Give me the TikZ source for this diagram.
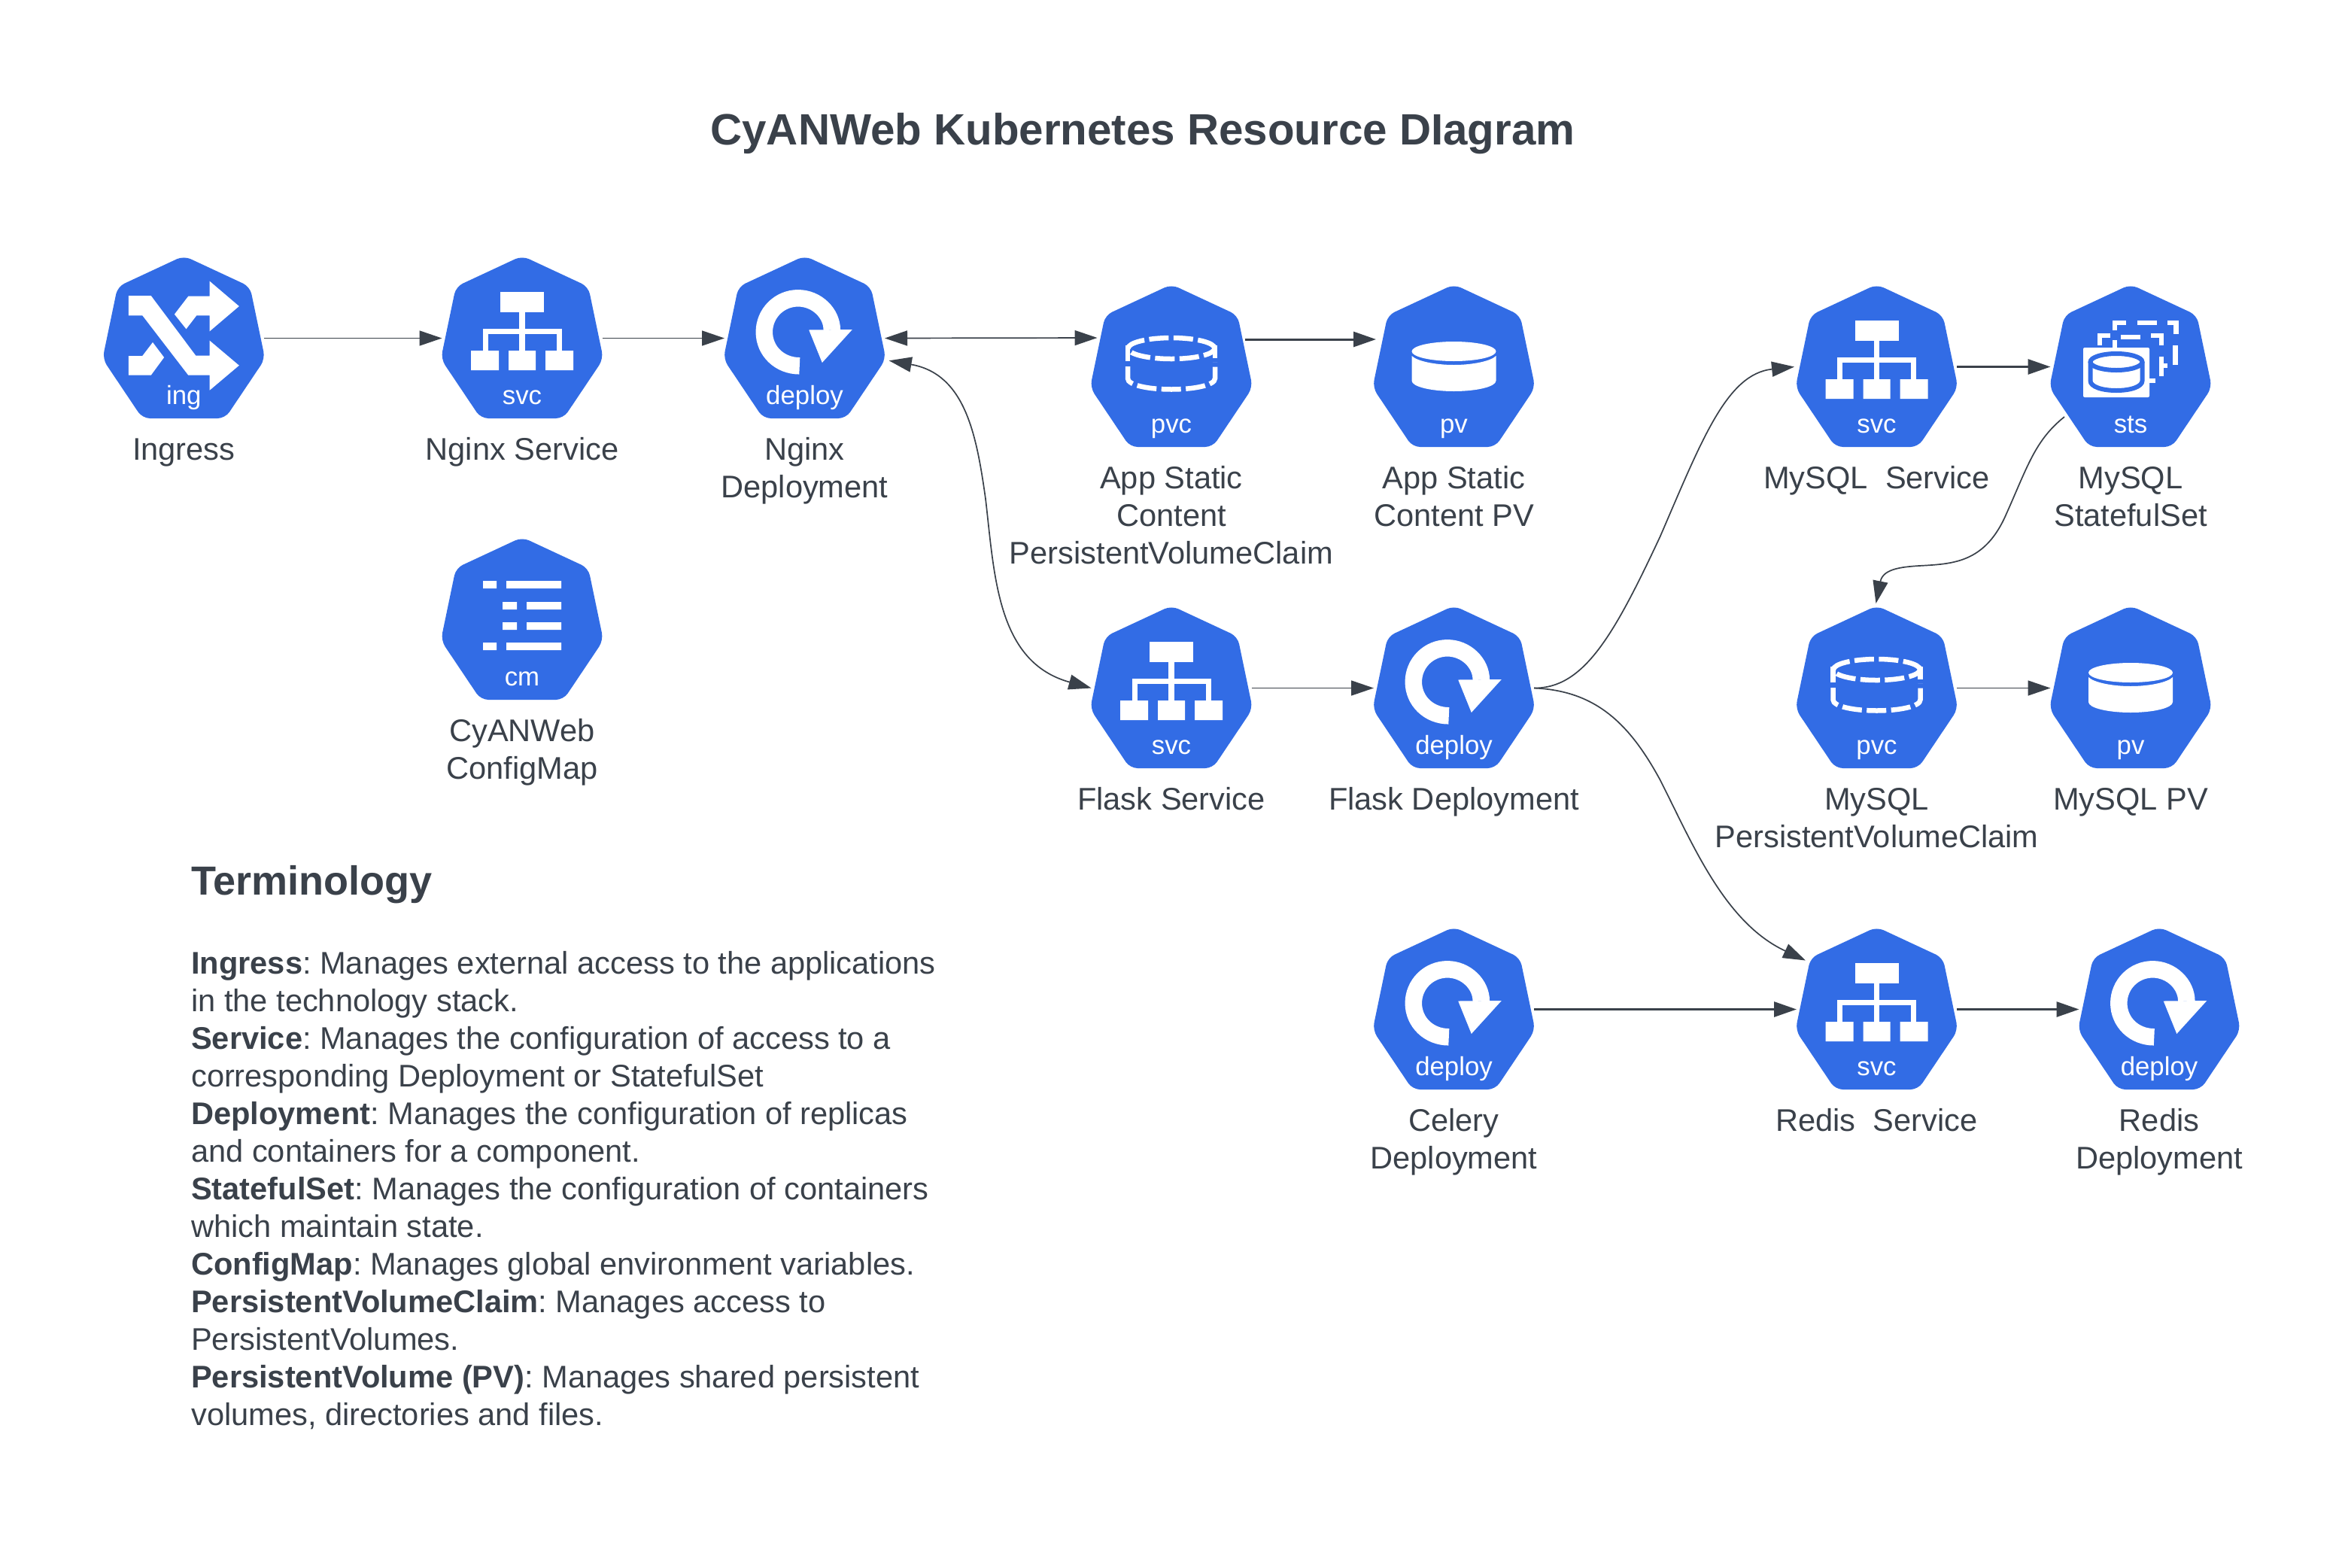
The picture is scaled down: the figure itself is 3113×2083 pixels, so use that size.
\documentclass[tikz,border=0pt]{standalone}
\usepackage{fontspec}
\setmainfont{Liberation Sans}
\usetikzlibrary{arrows.meta}
\definecolor{kubeblue}{HTML}{326CE5}
\definecolor{inkdark}{HTML}{3A414A}
\frenchspacing
\tikzset{
  hexbox/.style={rectangle,minimum width=213pt,minimum height=213pt,inner sep=0pt,outer sep=0pt},
  hexfill/.style={fill=kubeblue,rounded corners=10pt},
  abbrev/.style={text=white,font=\fontsize{34.8}{40}\selectfont,inner sep=0pt,anchor=base},
  lbl/.style={text=inkdark,font=\fontsize{41.6}{50}\selectfont,align=center,inner sep=0pt,anchor=north},
  conn/.style={draw=inkdark,line width=1.7pt,-{Triangle[length=30pt,width=20pt]}},
  connb/.style={draw=inkdark,line width=3pt,-{Triangle[length=30pt,width=20pt]}},
  twoway/.style={draw=inkdark,line width=1.7pt,{Triangle[length=30pt,width=20pt]}-{Triangle[length=30pt,width=20pt]}},
  wdash/.style={draw=white,line width=6.5pt},
}
\newcommand{\iconsvc}{%
  \fill[white] (-29,45) rectangle (29,72);
  \fill[white] (-68,123) rectangle (-31,149) (-18,123) rectangle (18,149) (31,123) rectangle (68,149);
  \draw[white,line width=7.6pt] (0,72) -- (0,123);
  \draw[white,line width=7pt] (-49,123) -- (-49,97.5) -- (49,97.5) -- (49,123);
}
\newcommand{\iconing}{%
  \fill[white] (-73.5,50) -- (-43.6,50) -- (16,129.7) -- (34.4,129.7) -- (34.4,109.7) -- (73.5,142.7) -- (34.4,175.7) -- (34.4,155.7) -- (6,155.7) -- (-55,76.3) -- (-73.5,76.3) -- cycle;
  \fill[white] (34.4,30.7) -- (73.5,64) -- (34.4,97.3) -- (34.4,76.3) -- (17,76.3) -- (3.2,94.3) -- (-12.4,74.7) -- (6,50.7) -- (34.4,50.7) -- cycle;
  \fill[white] (-73.5,130) -- (-55,130) -- (-41.3,112) -- (-26.2,132) -- (-43.6,155.7) -- (-73.5,155.7) -- cycle;
}
\newcommand{\icondeploy}{%
  \draw[white,line width=22.5pt] (-6.7,143.3) .. controls (-33.6,143.3) and (-53.7,123.2) .. (-53.7,98.3) .. controls (-53.7,73.4) and (-33.6,53.3) .. (-8.7,53.3) .. controls (16.2,53.3) and (36.3,73.4) .. (36.3,95.5);
  \fill[white] (5.7,95.5) -- (63.3,95) -- (23.3,139) -- cycle;
}
\newcommand{\iconpvc}{%
  \draw[wdash,dash pattern=on 26pt off 6.5pt] (0,82) ellipse [x radius=57.5pt,y radius=14pt];
  \draw[wdash] (-58,78) -- (-58,99);
  \draw[wdash] (58,78) -- (58,95);
  \draw[wdash,dash pattern=on 26pt off 6.5pt] (-58,106) -- (-58,122) .. controls (-58,131) and (-30,136.5) .. (0,136.5) .. controls (30,136.5) and (58,131) .. (58,122) -- (58,100);
}
\newcommand{\iconpv}{%
  \fill[white] (0,86) ellipse [x radius=56pt,y radius=13pt];
  \fill[white] (-56,92) .. controls (-49,99) and (-25,104) .. (0,104) .. controls (25,104) and (49,99) .. (56,92) -- (56,125) .. controls (56,133) and (30,139) .. (0,139) .. controls (-30,139) and (-56,133) .. (-56,125) -- cycle;
}
\newcommand{\iconcm}{%
  \fill[white] (-52,55) rectangle (-34,65) (-21,55) rectangle (52,65);
  \fill[white] (-26,83) rectangle (-7,93) (6,83) rectangle (52,93);
  \fill[white] (-26,110) rectangle (-7,120) (6,110) rectangle (52,120);
  \fill[white] (-52,137) rectangle (-34,147) (-21,137) rectangle (52,147);
}
\newcommand{\iconsts}{%
  \draw[wdash] (-41,78) -- (-41,65) -- (-26.8,65);
  \draw[wdash] (-13.4,67) -- (13.4,67);
  \draw[wdash] (26.8,65) -- (41,65) -- (41,78);
  \draw[wdash] (41,93) -- (41,119);
  \draw[wdash] (41,105) -- (48.8,105);
  \draw[wdash] (24.9,125) -- (32.5,125);
  \draw[wdash] (-21,71) -- (-21,81);
  \draw[wdash] (-21,58) -- (-21,48) -- (-5.7,48);
  \draw[wdash] (8.6,48) -- (35.4,48);
  \draw[wdash] (48.8,48) -- (60.3,48) -- (60.3,63);
  \draw[wdash] (59.3,78) -- (59.3,104);
  \fill[white,rounded corners=2pt] (-63,81) rectangle (25,147);
  \draw[kubeblue,line width=6pt] (-53.5,100) -- (-53.5,125) .. controls (-53.5,133) and (-38,138) .. (-19,138) .. controls (0,138) and (15.5,133) .. (15.5,125) -- (15.5,100);
  \draw[kubeblue,line width=6pt] (-19,100) ellipse [x radius=34.5pt,y radius=11pt];
}
\newcommand{\kube}[6]{%
  \node[hexbox] (#1) at (#2,{#3+106.5}) {};
  \begin{scope}[shift={(#2,#3)}]
    \fill[hexfill] (0,-3) -- (88,38) -- (108,134) -- (55,213) -- (-55,213) -- (-108,134) -- (-88,38) -- cycle;
    \csname icon#4\endcsname
    \node[abbrev] (#1-abbrev) at (0,194.5) {#5};
  \end{scope}
  \node[lbl] (#1-label) at (#2,{#3+233}) {\strut #6};
}
\begin{document}
\begin{tikzpicture}[x=1pt,y=-1pt]
\useasboundingbox (0,0) rectangle (3113,2083);
\fill[white] (0,0) rectangle (3113,2083);
\node[text=inkdark,font=\fontsize{58.3}{66}\selectfont\bfseries,inner sep=0pt] (title) at (1519,178) {CyANWeb Kubernetes Resource DIagram};

\kube{ing}{244.3}{343}{ing}{ing}{Ingress}
\kube{nsvc}{694}{343}{svc}{svc}{Nginx Service}
\kube{ndeploy}{1069.5}{343}{deploy}{deploy}{Nginx\\Deployment}
\kube{cm}{694}{717}{cm}{cm}{CyANWeb\\ConfigMap}
\kube{apvc}{1557}{381}{pvc}{pvc}{App Static\\Content\\PersistentVolumeClaim}
\kube{apv}{1932.5}{381}{pv}{pv}{App Static\\Content PV}
\kube{msvc}{2494.5}{381}{svc}{svc}{MySQL\ \ Service}
\kube{sts}{2832}{381}{sts}{sts}{MySQL\\StatefulSet}
\kube{fsvc}{1557}{808}{svc}{svc}{Flask Service}
\kube{fdeploy}{1932.5}{808}{deploy}{deploy}{Flask Deployment}
\kube{mpvc}{2494.5}{808}{pvc}{pvc}{MySQL\\PersistentVolumeClaim}
\kube{mpv}{2832}{808}{pv}{pv}{MySQL PV}
\kube{cdeploy}{1932.5}{1235}{deploy}{deploy}{Celery\\Deployment}
\kube{rsvc}{2494.5}{1235}{svc}{svc}{Redis\ \ Service}
\kube{rdeploy}{2870}{1235}{deploy}{deploy}{Redis\\Deployment}

\draw[conn] (ing.east) -- (nsvc.west);
\draw[conn] (nsvc.east) -- (ndeploy.west);
\draw[twoway] (ndeploy.east) -- ([shift={(8,-38.5)}]apvc.west);
\draw[connb] ([shift={(-9,-36.5)}]apvc.east) -- ([shift={(3,-36.5)}]apv.west);
\draw[connb] (msvc.east) -- (sts.west);
\draw[conn] (fsvc.east) -- (fdeploy.west);
\draw[conn] (mpvc.east) -- (mpv.west);
\draw[connb] (cdeploy.east) -- (rsvc.west);
\draw[connb] (rsvc.east) -- (rdeploy.west);
\draw[twoway] ([shift={(5.7,29.8)}]ndeploy.east) .. controls (1283,497) and (1298,578) .. (1310,663) .. controls (1322,765) and (1325,880) .. (fsvc.west);
\draw[conn] (fdeploy.east) .. controls (2105,915) and (2145,845) .. (2206.7,713) .. controls (2262,585) and (2295,497) .. ([xshift=-3pt]msvc.west);
\draw[conn] (fdeploy.east) .. controls (2120,918) and (2165,960) .. (2206.7,1036.7) .. controls (2250,1122) and (2292,1226) .. ([shift={(12,-65)}]rsvc.west);
\draw[conn] ([shift={(18.5,66.5)}]sts.west) .. controls (2705,585) and (2695,620) .. (2666.7,683.3) .. controls (2640,745) and (2600,749) .. (2560,751.5) .. controls (2530,753) and (2503,755) .. ([shift={(-1,-6)}]mpvc.north);

\node[text=inkdark,font=\fontsize{54}{60}\selectfont\bfseries,inner sep=0pt,anchor=west] (termhead) at (254,1176) {Terminology};
\node[text=inkdark,font=\fontsize{41.6}{50}\selectfont,inner sep=0pt,anchor=north west,align=left] (terms) at (254,1259) {\strut\textbf{Ingress}: Manages external access to the applications\\
in the technology stack.\\
\textbf{Service}: Manages the configuration of access to a\\
corresponding Deployment or StatefulSet\\
\textbf{Deployment}: Manages the configuration of replicas\\
and containers for a component.\\
\textbf{StatefulSet}: Manages the configuration of containers\\
which maintain state.\\
\textbf{ConfigMap}: Manages global environment variables.\\
\textbf{PersistentVolumeClaim}: Manages access to\\
PersistentVolumes.\\
\textbf{PersistentVolume (PV)}: Manages shared persistent\\
volumes, directories and files.};
\end{tikzpicture}
\end{document}
